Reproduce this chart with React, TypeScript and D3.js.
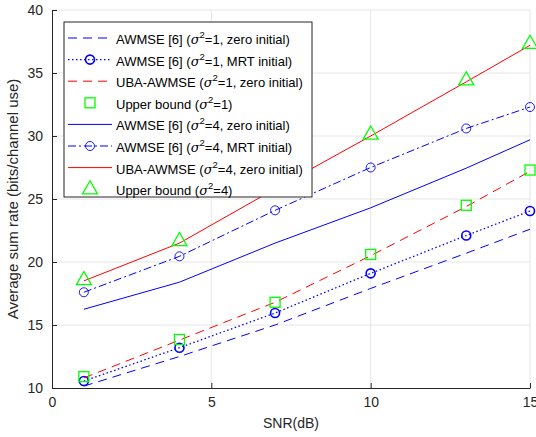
import React, { useRef, useEffect } from 'react';
import * as d3 from 'd3';

const snr = [1, 4, 7, 10, 13, 15];
const awmseZero1 = [10.15, 12.5, 15.0, 17.9, 20.7, 22.6];
const awmseMrt1 = [10.55, 13.2, 15.95, 19.1, 22.1, 24.05];
const uba1 = [10.8, 13.8, 16.8, 20.5, 24.4, 27.2];
const upper1 = [10.9, 13.85, 16.8, 20.6, 24.5, 27.3];
const awmseZero4 = [16.25, 18.4, 21.5, 24.3, 27.45, 29.7];
const awmseMrt4 = [17.6, 20.45, 24.1, 27.5, 30.6, 32.3];
const uba4 = [18.5, 21.5, 25.8, 30.0, 34.3, 37.2];
const upper4 = [18.65, 21.75, 25.9, 30.2, 34.5, 37.4];

const xTicks = [0, 5, 10, 15];
const yTicks = [10, 15, 20, 25, 30, 35, 40];

type Series = {
  name: string;
  sigma: string;
  suffix: string;
  values: number[];
  color: string;
  dash: string | null;
  width: number;
  marker: 'none' | 'circle' | 'circleThin' | 'square' | 'triangle';
};

const series: Series[] = [
  { name: 'AWMSE [6] (', sigma: '1', suffix: ', zero initial)', values: awmseZero1, color: '#0000ff', dash: '9,6', width: 1, marker: 'none' },
  { name: 'AWMSE [6] (', sigma: '1', suffix: ', MRT initial)', values: awmseMrt1, color: '#0000ff', dash: '1.5,2.5', width: 1.3, marker: 'circle' },
  { name: 'UBA-AWMSE (', sigma: '1', suffix: ', zero initial)', values: uba1, color: '#ff0000', dash: '9,6', width: 1, marker: 'none' },
  { name: 'Upper bound (', sigma: '1', suffix: ')', values: upper1, color: '#00ff00', dash: null, width: 0, marker: 'square' },
  { name: 'AWMSE [6] (', sigma: '4', suffix: ', zero initial)', values: awmseZero4, color: '#0000ff', dash: '', width: 1, marker: 'none' },
  { name: 'AWMSE [6] (', sigma: '4', suffix: ', MRT initial)', values: awmseMrt4, color: '#0000ff', dash: '8,3,2,3', width: 1, marker: 'circleThin' },
  { name: 'UBA-AWMSE (', sigma: '4', suffix: ', zero initial)', values: uba4, color: '#ff0000', dash: '', width: 1, marker: 'none' },
  { name: 'Upper bound (', sigma: '4', suffix: ')', values: upper4, color: '#00ff00', dash: null, width: 0, marker: 'triangle' },
];

const W = 536;
const H = 437;
const M = { left: 52, right: 6, top: 10, bottom: 49 };

function drawMarker(g: any, kind: string, x: number, y: number, color: string) {
  if (kind === 'circle') {
    g.append('circle').attr('cx', x).attr('cy', y).attr('r', 4.5)
      .attr('fill', 'none').attr('stroke', color).attr('stroke-width', 1.6);
  } else if (kind === 'circleThin') {
    g.append('circle').attr('cx', x).attr('cy', y).attr('r', 4.5)
      .attr('fill', 'none').attr('stroke', color).attr('stroke-width', 0.9);
  } else if (kind === 'square') {
    g.append('rect').attr('x', x - 5).attr('y', y - 5).attr('width', 10).attr('height', 10)
      .attr('fill', 'none').attr('stroke', color).attr('stroke-width', 1.3);
  } else if (kind === 'triangle') {
    const s = 7.5;
    g.append('path').attr('d', `M${x},${y - s}L${x + s},${y + s * 0.75}L${x - s},${y + s * 0.75}Z`)
      .attr('fill', 'none').attr('stroke', color).attr('stroke-width', 1.3);
  }
}

const App = () => {
  const svgRef = useRef<SVGSVGElement>(null);

  useEffect(() => {
    const svg = d3.select(svgRef.current);
    svg.selectAll('*').remove();
    const font = 'Liberation Sans, Arial, sans-serif';

    const x = d3.scaleLinear().domain([0, 15]).range([M.left, W - M.right]);
    const y = d3.scaleLinear().domain([10, 40]).range([H - M.bottom, M.top]);

    svg.append('rect').attr('width', W).attr('height', H).attr('fill', '#fff');

    // grid
    const grid = svg.append('g').attr('stroke', '#e6e6e6').attr('stroke-width', 1);
    xTicks.slice(1).forEach(t => {
      grid.append('line').attr('x1', x(t)).attr('x2', x(t)).attr('y1', y(10)).attr('y2', y(40));
    });
    yTicks.slice(1).forEach(t => {
      grid.append('line').attr('x1', x(0)).attr('x2', x(15)).attr('y1', y(t)).attr('y2', y(t));
    });

    // axes
    const xAxis = d3.axisBottom(x).tickValues(xTicks).tickSizeInner(-5).tickSizeOuter(0).tickPadding(9);
    const gx = svg.append('g').attr('transform', `translate(0,${y(10)})`).call(xAxis);
    const yAxis = d3.axisLeft(y).tickValues(yTicks).tickSizeInner(-5).tickSizeOuter(0).tickPadding(9);
    const gy = svg.append('g').attr('transform', `translate(${x(0)},0)`).call(yAxis);
    [gx, gy].forEach(g => {
      g.select('.domain').attr('stroke', '#262626');
      g.selectAll('.tick line').attr('stroke', '#262626');
      g.selectAll('.tick text').attr('fill', '#262626').style('font-size', '14px').style('font-family', font);
    });

    svg.append('text').attr('x', (x(0) + x(15)) / 2).attr('y', 428)
      .attr('text-anchor', 'middle').attr('fill', '#262626')
      .style('font-size', '14px').style('font-family', font).text('SNR(dB)');
    svg.append('text').attr('transform', `translate(18,${(y(10) + y(40)) / 2}) rotate(-90)`)
      .attr('text-anchor', 'middle').attr('fill', '#262626')
      .style('font-size', '15px').style('font-family', font).text('Average sum rate (bits/channel use)');

    // series
    const line = d3.line<number>().x((d, i) => x(snr[i])).y(d => y(d));
    series.forEach(s => {
      if (s.dash !== null) {
        svg.append('path').datum(s.values).attr('d', line)
          .attr('fill', 'none').attr('stroke', s.color).attr('stroke-width', s.width)
          .attr('stroke-dasharray', s.dash || null);
      }
      const mg = svg.append('g');
      s.values.forEach((v, i) => drawMarker(mg, s.marker, x(snr[i]), y(v), s.color));
    });

    // legend
    const lx = 64, ly = 22, lw = 248, lh = 175, rowH = 21.6;
    const lg = svg.append('g');
    lg.append('rect').attr('x', lx).attr('y', ly).attr('width', lw).attr('height', lh)
      .attr('fill', '#fff').attr('stroke', '#262626').attr('stroke-width', 1);
    series.forEach((s, i) => {
      const cy = ly + 16 + i * rowH;
      if (s.dash !== null) {
        lg.append('line').attr('x1', lx + 4).attr('x2', lx + 48).attr('y1', cy).attr('y2', cy)
          .attr('stroke', s.color).attr('stroke-width', s.width).attr('stroke-dasharray', s.dash || null);
      }
      drawMarker(lg, s.marker, lx + 26, cy - (s.marker === 'triangle' ? 1 : 0), s.color);
      const t = lg.append('text').attr('x', lx + 52).attr('y', cy + 6)
        .attr('fill', '#000').style('font-size', '13px').style('font-family', font);
      t.append('tspan').text(s.name);
      t.append('tspan').style('font-style', 'italic').style('font-family', 'DejaVu Serif, serif').text('σ');
      t.append('tspan').attr('dy', -6).style('font-size', '9.5px').text('2');
      t.append('tspan').attr('dy', 6).text('=' + s.sigma + s.suffix);
    });
  }, []);

  return (
    <svg ref={svgRef} width={W} height={H} style={{ position: 'absolute', left: 0, top: 0 }} />
  );
};

export default App;
